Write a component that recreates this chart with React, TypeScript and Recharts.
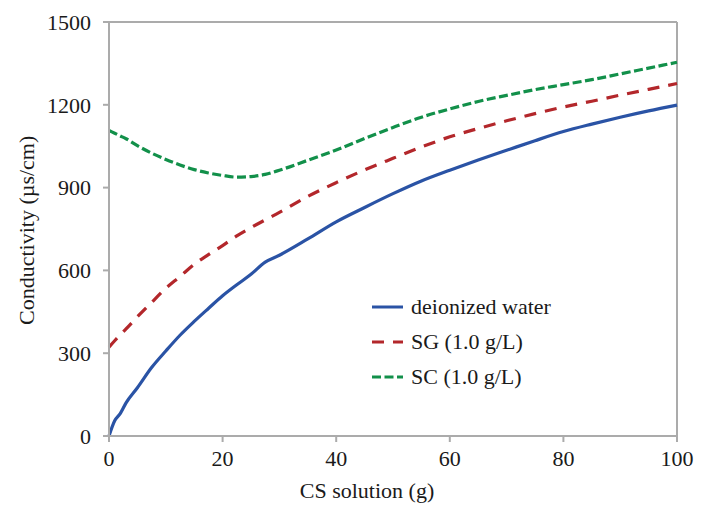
import { Line, LineChart, ReferenceLine, XAxis, YAxis } from "recharts";

const X_VALUES = [0, 1, 2, 3, 5, 7.5, 10, 12.5, 15, 17.5, 20, 22.5, 25, 27.5, 30, 35, 40, 45, 50, 55, 60, 65, 70, 75, 80, 85, 90, 95, 100];

const DEIONIZED = [0, 55, 82, 120, 175, 248, 308, 365, 415, 462, 508, 548, 586, 630, 655, 714, 776, 828, 878, 924, 963, 1000, 1035, 1070, 1103, 1130, 1155, 1178, 1199];

const SG = [322, 345, 367, 388, 432, 484, 535, 578, 622, 657, 690, 725, 755, 783, 810, 868, 918, 964, 1006, 1047, 1084, 1114, 1142, 1168, 1192, 1213, 1235, 1256, 1277];

const SC = [1107, 1097, 1087, 1077, 1052, 1025, 1002, 982, 965, 953, 944, 938, 940, 948, 963, 999, 1036, 1078, 1118, 1155, 1185, 1212, 1234, 1255, 1273, 1291, 1312, 1333, 1354];

const X_TICKS = [0, 20, 40, 60, 80, 100];
const Y_TICKS = [0, 300, 600, 900, 1200, 1500];

const SERIES = [
  { key: "dw", name: "deionized water", color: "#2A53A5", dash: undefined },
  { key: "sg", name: "SG (1.0 g/L)", color: "#B3272B", dash: "12 9" },
  { key: "sc", name: "SC (1.0 g/L)", color: "#12904A", dash: "9 3.5" },
];

const data = X_VALUES.map((x, i) => ({ x, dw: DEIONIZED[i], sg: SG[i], sc: SC[i] }));

const FONT = "'Liberation Serif', 'DejaVu Serif', serif";
const AXIS = "#ABABAB";
const TEXT = "#1A1A1A";

// legend drawn as a plain overlay so it doesn't eat into the plot area
function LegendBox() {
  return (
    <div style={{ position: "absolute", left: 371, top: 289, fontFamily: FONT, fontSize: 22, color: TEXT }}>
      {SERIES.map((s) => (
        <div key={s.key} style={{ display: "flex", alignItems: "center", height: 35 }}>
          <svg width={40} height={10}>
            <line x1={1} y1={5} x2={32} y2={5} stroke={s.color} strokeWidth={3} strokeDasharray={s.dash} />
          </svg>
          <span>{s.name}</span>
        </div>
      ))}
    </div>
  );
}

export default function App() {
  return (
    <div style={{ position: "absolute", left: 0, top: 0, width: 708, height: 508, background: "#fff" }}>
      <LineChart width={708} height={508} data={data} margin={{ top: 22, right: 31, bottom: 0, left: 0 }}>
        <XAxis
          dataKey="x"
          type="number"
          domain={[0, 100]}
          ticks={X_TICKS}
          height={72}
          stroke={AXIS}
          strokeWidth={2}
          tickSize={6}
          tickMargin={8}
          tick={{ fill: TEXT, fontSize: 22, fontFamily: FONT }}
          label={{ value: "CS solution (g)", position: "insideBottom", offset: 10, dx: -26, fill: TEXT, fontSize: 22, fontFamily: FONT }}
        />
        <YAxis
          type="number"
          domain={[0, 1500]}
          ticks={Y_TICKS}
          width={109}
          stroke={AXIS}
          strokeWidth={2}
          tickSize={6}
          tickMargin={12}
          tick={{ fill: TEXT, fontSize: 22, fontFamily: FONT }}
          label={{ value: "Conductivity (µs/cm)", angle: -90, position: "insideLeft", offset: 26, dy: 96, fill: TEXT, fontSize: 22, fontFamily: FONT }}
        />
        <ReferenceLine y={1500} stroke={AXIS} strokeWidth={2} />
        <ReferenceLine x={100} stroke={AXIS} strokeWidth={2} />
        {SERIES.map((s) => (
          <Line
            key={s.key}
            dataKey={s.key}
            name={s.name}
            type="monotone"
            stroke={s.color}
            strokeWidth={3.2}
            strokeDasharray={s.dash}
            dot={false}
            activeDot={false}
            isAnimationActive={false}
          />
        ))}
      </LineChart>
      <LegendBox />
    </div>
  );
}
